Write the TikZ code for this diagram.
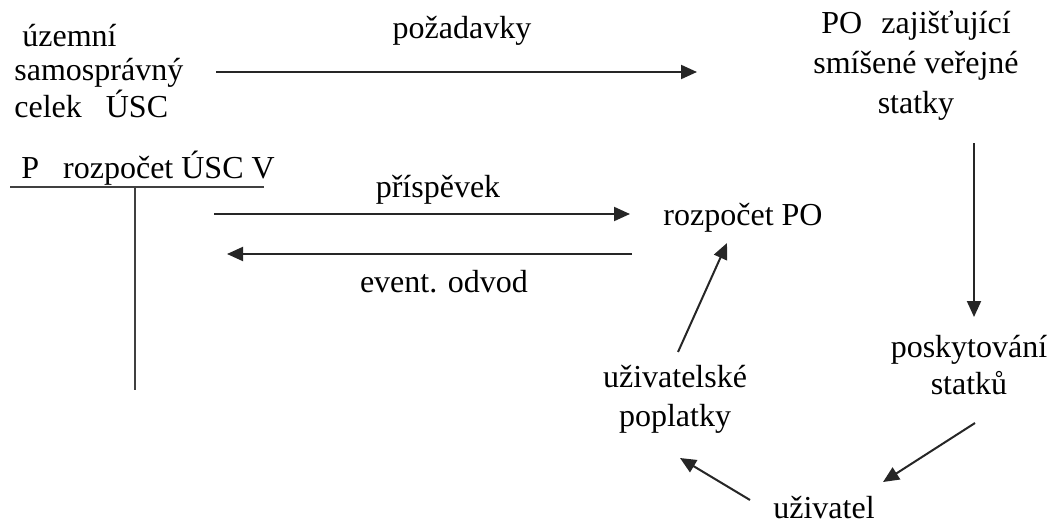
\documentclass[tikz,border=0pt]{standalone}
\usepackage{fontspec}
\setmainfont{Liberation Serif}
\usetikzlibrary{arrows.meta}
\tikzset{
  txt/.style={inner sep=0pt, font=\fontsize{16}{17}\selectfont},
  arr/.style={-{Triangle[length=8pt,width=7pt]}, line width=1pt, black!85},
  ucet/.style={line width=1pt, black!75}
}
\begin{document}
\begin{tikzpicture}[x=0.5pt,y=-0.5pt]
  \useasboundingbox (0,0) rectangle (1053,524);
  %uzly
  \node[txt, align=left, anchor=west] (usc) at (14,71) {\hspace*{0.25em}územní\\samosprávný\\celek~~~ÚSC};
  \node[txt, align=center, font=\fontsize{16}{20}\selectfont] (po) at (916,66) {PO\hspace{0.6em}zajišťující\\smíšené veřejné\\statky};
  \node[txt, anchor=base west] (rusc) at (21,178) {P~~~rozpočet ÚSC V};
  \node[txt, anchor=base] (rpo) at (743,225) {rozpočet PO};
  \node[txt, align=center, font=\fontsize{16}{18.5}\selectfont] (posk) at (969,365) {poskytování\\statků};
  \node[txt, align=center, font=\fontsize{16}{19.5}\selectfont] (uzp) at (675,399) {uživatelské\\poplatky};
  \node[txt, anchor=base] (uziv) at (824,518) {uživatel};
  %popisky
  \node[txt, anchor=base] (lpoz) at (462,39) {požadavky};
  \node[txt, anchor=base] (lpri) at (438,197) {příspěvek};
  \node[txt, anchor=base] (lodv) at (444,292) {event. odvod};
  %konce sipek
  \coordinate (pozA) at (216,72);  \coordinate (pozB) at (697,72);
  \coordinate (priA) at (214,214); \coordinate (priB) at (630,214);
  \coordinate (odvA) at (632,254); \coordinate (odvB) at (227,254);
  \coordinate (stA) at (974,143);  \coordinate (stB) at (974,317);
  \coordinate (poA) at (975,423);  \coordinate (poB) at (883,482);
  \coordinate (uzA) at (750,500);  \coordinate (uzB) at (680,458);
  \coordinate (plA) at (678,352);  \coordinate (plB) at (727,243);
  %sipky
  \draw[arr] (pozA) -- (pozB);
  \draw[arr] (priA) -- (priB);
  \draw[arr] (odvA) -- (odvB);
  \draw[arr] (stA) -- (stB);
  \draw[arr] (poA) -- (poB);
  \draw[arr] (uzA) -- (uzB);
  \draw[arr] (plA) -- (plB);
  %ucet
  \draw[ucet] (10,187) -- (264,187);
  \draw[ucet] (135,187) -- (135,390);
\end{tikzpicture}
\end{document}
